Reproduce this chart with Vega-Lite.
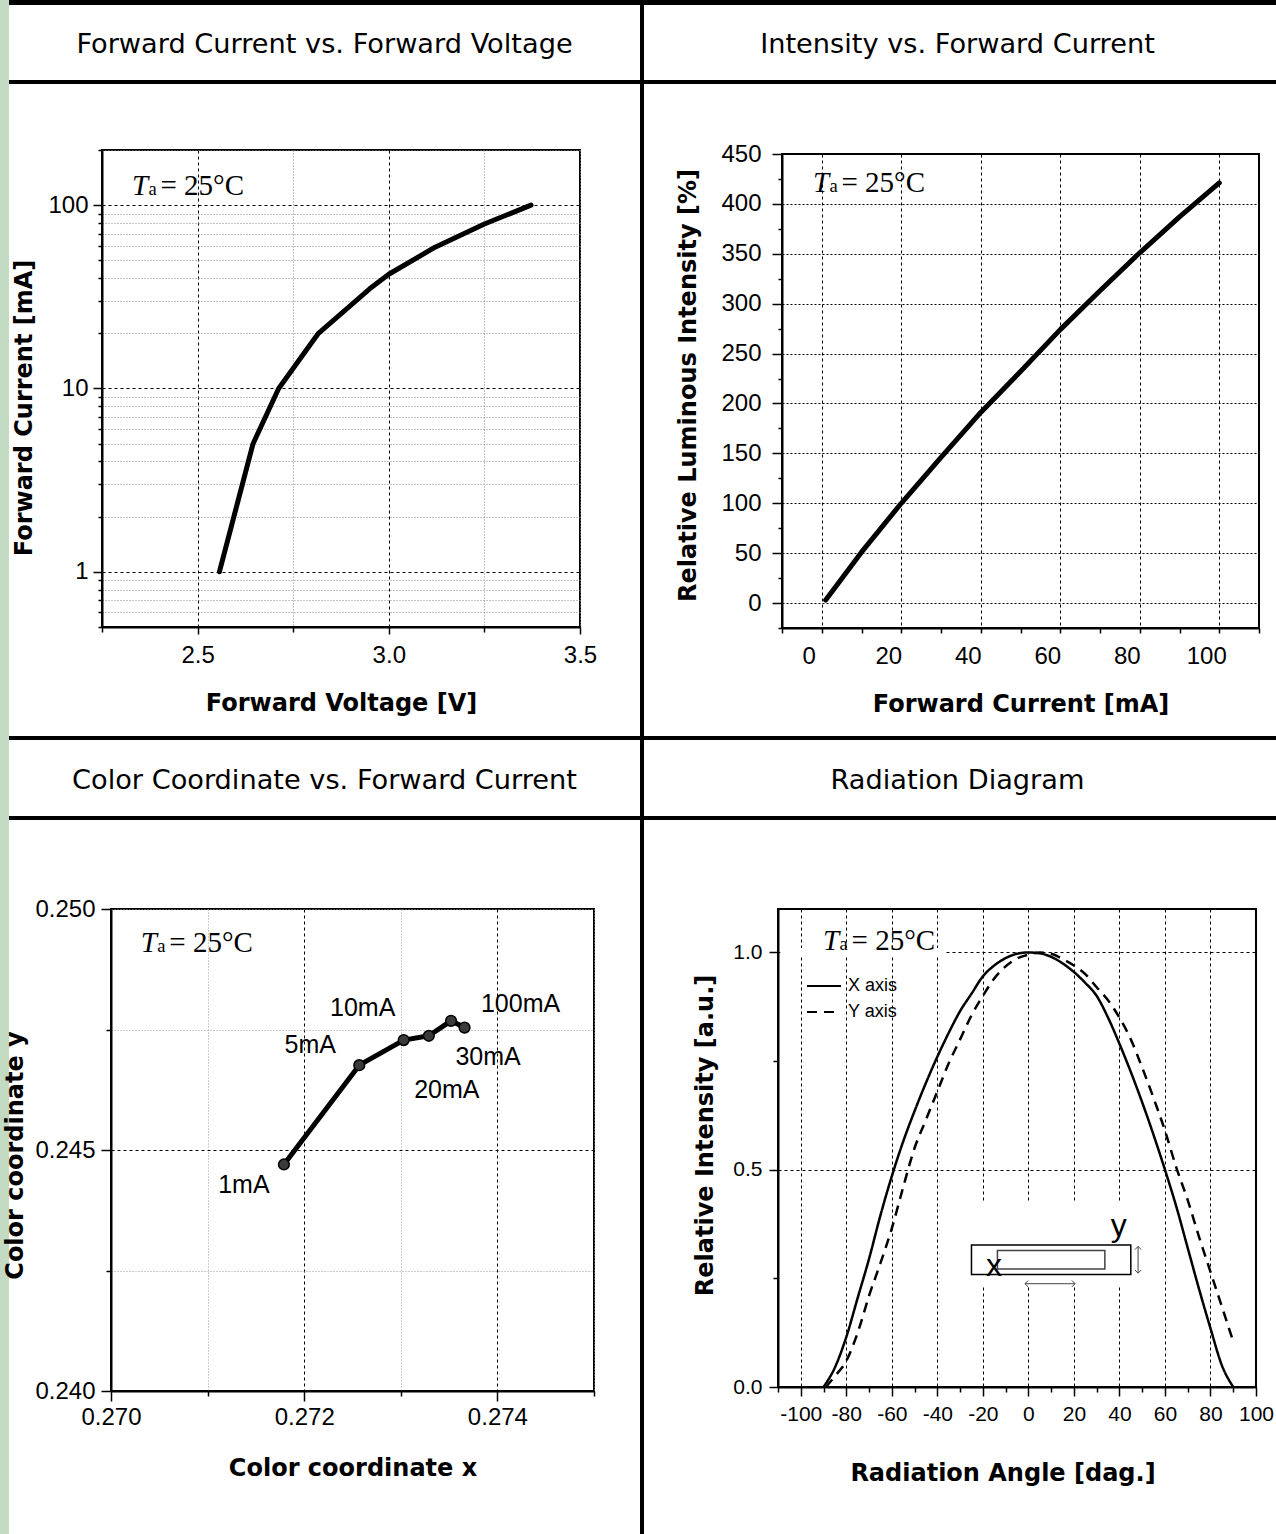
{
"$schema": "https://vega.github.io/schema/vega-lite/v6.json",
"background": "white",
"padding": 0,
"autosize": {"type": "pad"},
"data": {"values": []},
"spacing": 0,
"resolve": {"scale": {"strokeDash": "independent"}, "legend": {"strokeDash": "independent"}},
"config": {
 "view": {"stroke": null},
 "axis": {"labelFont": "Liberation Sans", "labelColor": "black", "titleFont": "DejaVu Sans", "titleFontWeight": "bold", "titleFontSize": 24, "titleColor": "black", "tickColor": "black", "tickWidth": 1.5, "domainColor": "black", "domainWidth": 2, "labelFlush": false, "labelOverlap": false, "gridWidth": 1, "titleBaseline": "alphabetic", "titlePadding": 0},
 "text": {"color": "black"}
},
"vconcat": [
 {"spacing": 0, "hconcat": [
  {"columns": 4, "spacing": 0, "bounds": "flush", "align": "each", "concat": [
   {"width":9,"height":5,"mark":"point","view":{"fill":"#c3dbc3"}},
   {"width":93,"height":5,"mark":"point","view":{"fill":"black"}},
   {"width":478,"height":5,"mark":"point","view":{"fill":"black"}},
   {"width":60,"height":5,"mark":"point","view":{"fill":"black"}},

   {"width":9,"height":75,"mark":"point","view":{"fill":"#c3dbc3"}},
   {"width":93,"height":75,"mark":"point"},
   {"width":478,"height":75,"data":{"values":[{"t":"Forward Current vs. Forward Voltage"}]},"mark":{"type":"text","font":"DejaVu Sans","fontSize":27.2,"dx":-16.5,"dy":2,"color":"black"},"encoding":{"text":{"field":"t","type":"nominal"}}},
   {"width":60,"height":75,"mark":"point"},

   {"width":9,"height":4,"mark":"point","view":{"fill":"#c3dbc3"}},
   {"width":93,"height":4,"mark":"point","view":{"fill":"black"}},
   {"width":478,"height":4,"mark":"point","view":{"fill":"black"}},
   {"width":60,"height":4,"mark":"point","view":{"fill":"black"}},

   {"width":9,"height":66,"mark":"point","view":{"fill":"#c3dbc3"}},
   {"width":93,"height":66,"mark":"point"},
   {"width":478,"height":66,"mark":"point"},
   {"width":60,"height":66,"mark":"point"},

   {"width":9,"height":477,"mark":"point","view":{"fill":"#c3dbc3"}},
   {"width":93,"height":477,"mark":"point"},
   {"width":478,"height":477,
    "view":{"stroke":"black","strokeWidth":2},
    "layer":[
     {"data":{"values":[{"V":2.557,"I":1},{"V":2.645,"I":5},{"V":2.712,"I":10},{"V":2.816,"I":20},{"V":2.95,"I":35},{"V":3.0,"I":42},{"V":3.121,"I":59},{"V":3.25,"I":79},{"V":3.372,"I":100}]},
      "mark":{"type":"line","color":"black","strokeWidth":5,"strokeCap":"round","strokeJoin":"round"},
      "encoding":{
       "x":{"field":"V","type":"quantitative","scale":{"domain":[2.25,3.5],"nice":false,"zero":false},
        "axis":{"title":"Forward Voltage [V]","values":[2.25,2.5,2.75,3,3.25,3.5],"tickCount":100,"format":".1f",
         "labelExpr":"(datum.value==2.5||datum.value==3||datum.value==3.5)?datum.label:''",
         "labelFontSize":24,"labelPadding":9,
         "tickSize":{"condition":{"test":"datum.value==2.5||datum.value==3||datum.value==3.5","value":7},"value":5},
         "grid":true,
         "gridDash":{"condition":{"test":"datum.value==2.5||datum.value==3","value":[3,3]},"value":[1,2]},
         "gridColor":{"condition":{"test":"datum.value==2.5||datum.value==3","value":"black"},"value":"#888888"},
         "titleY":83}},
       "y":{"field":"I","type":"quantitative","scale":{"type":"log","domain":[0.5,200],"nice":false},
        "axis":{"title":"Forward Current [mA]","values":[0.5,0.6,0.7,0.8,0.9,1,2,3,4,5,6,7,8,9,10,20,30,40,50,60,70,80,90,100,200],"tickCount":100,"format":"d",
         "labelExpr":"(datum.value==1||datum.value==10||datum.value==100)?datum.label:''",
         "labelFontSize":24,"labelPadding":5,
         "tickSize":{"condition":{"test":"datum.value==1||datum.value==10||datum.value==100","value":9},"value":4},
         "grid":true,
         "gridDash":{"condition":{"test":"datum.value==1||datum.value==10||datum.value==100","value":[3,3]},"value":[1,2]},
         "gridColor":{"condition":{"test":"datum.value==1||datum.value==10||datum.value==100","value":"black"},"value":"#888888"},
         "titleX":-71,"titleY":257.5}}}},
     {"data":{"values":[{}]},"mark":{"type":"text","text":"T","font":"Liberation Serif","fontStyle":"italic","fontSize":29,"align":"left","baseline":"alphabetic","color":"black"},
      "encoding":{"x":{"datum":2.3285},"y":{"datum":113.4}}},
     {"data":{"values":[{}]},"mark":{"type":"text","text":"a","font":"Liberation Serif","fontSize":18.5,"align":"left","baseline":"alphabetic","dx":16.5,"color":"black"},
      "encoding":{"x":{"datum":2.3285},"y":{"datum":113.4}}},
     {"data":{"values":[{}]},"mark":{"type":"text","text":"= 25°C","font":"Liberation Serif","fontSize":29,"align":"left","baseline":"alphabetic","dx":28.5,"color":"black"},
      "encoding":{"x":{"datum":2.3285},"y":{"datum":113.4}}}
    ]},
   {"width":60,"height":477,"mark":"point"},

   {"width":9,"height":109,"mark":"point","view":{"fill":"#c3dbc3"}},
   {"width":93,"height":109,"mark":"point"},
   {"width":478,"height":109,"mark":"point"},
   {"width":60,"height":109,"mark":"point"},

   {"width":9,"height":4,"mark":"point","view":{"fill":"#c3dbc3"}},
   {"width":93,"height":4,"mark":"point","view":{"fill":"black"}},
   {"width":478,"height":4,"mark":"point","view":{"fill":"black"}},
   {"width":60,"height":4,"mark":"point","view":{"fill":"black"}}
  ]},
  {"columns": 4, "spacing": 0, "bounds": "flush", "align": "each", "concat": [
   {"width":4,"height":5,"mark":"point","view":{"fill":"black"}},
   {"width":138,"height":5,"mark":"point","view":{"fill":"black"}},
   {"width":477,"height":5,"mark":"point","view":{"fill":"black"}},
   {"width":17,"height":5,"mark":"point","view":{"fill":"black"}},

   {"width":4,"height":75,"mark":"point","view":{"fill":"black"}},
   {"width":138,"height":75,"mark":"point"},
   {"width":477,"height":75,"data":{"values":[{"t":"Intensity vs. Forward Current"}]},"mark":{"type":"text","font":"DejaVu Sans","fontSize":27.2,"dx":-63,"dy":2,"color":"black"},"encoding":{"text":{"field":"t","type":"nominal"}}},
   {"width":17,"height":75,"mark":"point"},

   {"width":4,"height":4,"mark":"point","view":{"fill":"black"}},
   {"width":138,"height":4,"mark":"point","view":{"fill":"black"}},
   {"width":477,"height":4,"mark":"point","view":{"fill":"black"}},
   {"width":17,"height":4,"mark":"point","view":{"fill":"black"}},

   {"width":4,"height":70,"mark":"point","view":{"fill":"black"}},
   {"width":138,"height":70,"mark":"point"},
   {"width":477,"height":70,"mark":"point"},
   {"width":17,"height":70,"mark":"point"},

   {"width":4,"height":474,"mark":"point","view":{"fill":"black"}},
   {"width":138,"height":474,"mark":"point"},
   {"width":477,"height":474,
    "view":{"stroke":"black","strokeWidth":2},
    "layer":[
     {"data":{"values":[{"If":1,"L":3},{"If":10,"L":51},{"If":20,"L":100},{"If":30,"L":146},{"If":40,"L":191},{"If":50,"L":232},{"If":60,"L":274},{"If":70,"L":313},{"If":80,"L":351},{"If":90,"L":387},{"If":100,"L":421}]},
      "mark":{"type":"line","color":"black","strokeWidth":5,"strokeCap":"round","strokeJoin":"round"},
      "encoding":{
       "x":{"field":"If","type":"quantitative","scale":{"domain":[-10,110],"nice":false,"zero":false},
        "axis":{"title":"Forward Current [mA]","values":[-10,0,10,20,30,40,50,60,70,80,90,100,110],"tickCount":100,"format":"d",
         "labelExpr":"indexof([0,20,40,60,80,100],datum.value)>=0?datum.label:''",
         "labelFontSize":24,"labelPadding":11.5,"labelOffset":-13,"tickSize":5,
         "grid":true,"gridDash":[3,3],"gridColor":"black",
         "gridOpacity":{"condition":{"test":"indexof([0,20,40,60,80,100],datum.value)>=0","value":1},"value":0},
         "titleY":83}},
       "y":{"field":"L","type":"quantitative","scale":{"domain":[-25,450],"nice":false,"zero":false},
        "axis":{"title":"Relative Luminous Intensity [%]","values":[-25,0,25,50,75,100,125,150,175,200,225,250,275,300,325,350,375,400,425,450],"tickCount":100,"format":"d",
         "labelExpr":"indexof([0,50,100,150,200,250,300,350,400,450],datum.value)>=0?datum.label:''",
         "labelFontSize":24,"labelPadding":11,
         "tickSize":{"condition":{"test":"indexof([0,50,100,150,200,250,300,350,400,450],datum.value)>=0","value":10},"value":4},
         "grid":true,"gridDash":[2,2],"gridColor":"black",
         "gridOpacity":{"condition":{"test":"indexof([0,50,100,150,200,250,300,350,400],datum.value)>=0","value":1},"value":0},
         "titleX":-87,"titleY":231}}}},
     {"data":{"values":[{}]},"mark":{"type":"text","text":"T","font":"Liberation Serif","fontStyle":"italic","fontSize":29,"align":"left","baseline":"alphabetic","color":"black"},
      "encoding":{"x":{"datum":-2.2},"y":{"datum":412.2}}},
     {"data":{"values":[{}]},"mark":{"type":"text","text":"a","font":"Liberation Serif","fontSize":18.5,"align":"left","baseline":"alphabetic","dx":16.5,"color":"black"},
      "encoding":{"x":{"datum":-2.2},"y":{"datum":412.2}}},
     {"data":{"values":[{}]},"mark":{"type":"text","text":"= 25°C","font":"Liberation Serif","fontSize":29,"align":"left","baseline":"alphabetic","dx":28.5,"color":"black"},
      "encoding":{"x":{"datum":-2.2},"y":{"datum":412.2}}}
    ]},
   {"width":17,"height":474,"mark":"point"},

   {"width":4,"height":108,"mark":"point","view":{"fill":"black"}},
   {"width":138,"height":108,"mark":"point"},
   {"width":477,"height":108,"mark":"point"},
   {"width":17,"height":108,"mark":"point"},

   {"width":4,"height":4,"mark":"point","view":{"fill":"black"}},
   {"width":138,"height":4,"mark":"point","view":{"fill":"black"}},
   {"width":477,"height":4,"mark":"point","view":{"fill":"black"}},
   {"width":17,"height":4,"mark":"point","view":{"fill":"black"}}
  ]}
 ]},
 {"spacing": 0, "resolve": {"scale": {"strokeDash": "independent"}, "legend": {"strokeDash": "independent"}}, "hconcat": [
  {"columns": 4, "spacing": 0, "bounds": "flush", "align": "each", "concat": [
   {"width":9,"height":76,"mark":"point","view":{"fill":"#c3dbc3"}},
   {"width":102,"height":76,"mark":"point"},
   {"width":483,"height":76,"data":{"values":[{"t":"Color Coordinate vs. Forward Current"}]},"mark":{"type":"text","font":"DejaVu Sans","fontSize":27.2,"dx":-28,"dy":3,"color":"black"},"encoding":{"text":{"field":"t","type":"nominal"}}},
   {"width":46,"height":76,"mark":"point"},

   {"width":9,"height":4,"mark":"point","view":{"fill":"#c3dbc3"}},
   {"width":102,"height":4,"mark":"point","view":{"fill":"black"}},
   {"width":483,"height":4,"mark":"point","view":{"fill":"black"}},
   {"width":46,"height":4,"mark":"point","view":{"fill":"black"}},

   {"width":9,"height":89,"mark":"point","view":{"fill":"#c3dbc3"}},
   {"width":102,"height":89,"mark":"point"},
   {"width":483,"height":89,"mark":"point"},
   {"width":46,"height":89,"mark":"point"},

   {"width":9,"height":482,"mark":"point","view":{"fill":"#c3dbc3"}},
   {"width":102,"height":482,"mark":"point"},
   {"width":483,"height":482,
    "view":{"stroke":"black","strokeWidth":2},
    "data":{"values":[{"x":0.27179,"y":0.2447,"label":"1mA"},{"x":0.27257,"y":0.24676,"label":"5mA"},{"x":0.27303,"y":0.24728,"label":"10mA"},{"x":0.27329,"y":0.24737,"label":"20mA"},{"x":0.27352,"y":0.24768,"label":"30mA"},{"x":0.27366,"y":0.24754,"label":"100mA"}]},
    "layer":[
     {"mark":{"type":"line","color":"black","strokeWidth":5,"strokeJoin":"round"},
      "encoding":{
       "x":{"field":"x","type":"quantitative","scale":{"domain":[0.27,0.275],"nice":false,"zero":false},
        "axis":{"title":"Color coordinate x","values":[0.27,0.271,0.272,0.273,0.274,0.275],"tickCount":100,"format":".3f",
         "labelExpr":"(datum.value==0.27||datum.value==0.272||datum.value==0.274)?datum.label:''",
         "labelFontSize":24,"labelPadding":4,
         "tickSize":{"condition":{"test":"datum.value==0.27||datum.value==0.272||datum.value==0.274","value":10},"value":5},
         "grid":true,
         "gridDash":{"condition":{"test":"datum.value==0.272||datum.value==0.274","value":[3,3]},"value":[1,2]},
         "gridColor":{"condition":{"test":"datum.value==0.272||datum.value==0.274","value":"black"},"value":"#999999"},
         "titleY":84}},
       "y":{"field":"y","type":"quantitative","scale":{"domain":[0.24,0.25],"nice":false,"zero":false},
        "axis":{"title":"Color coordinate y","values":[0.24,0.2425,0.245,0.2475,0.25],"tickCount":100,"format":".3f",
         "labelExpr":"(datum.value==0.24||datum.value==0.245||datum.value==0.25)?datum.label:''",
         "labelFontSize":24,"labelPadding":6,
         "tickSize":{"condition":{"test":"datum.value==0.24||datum.value==0.245||datum.value==0.25","value":10},"value":5},
         "grid":true,
         "gridDash":{"condition":{"test":"datum.value==0.245","value":[3,3]},"value":[1,2]},
         "gridColor":{"condition":{"test":"datum.value==0.245","value":"black"},"value":"#999999"},
         "titleX":-89,"titleY":246}}}},
     {"mark":{"type":"point","shape":"circle","filled":true,"size":115,"fill":"#3a3a3a","stroke":"black","strokeWidth":1.5,"opacity":1},
      "encoding":{"x":{"field":"x","type":"quantitative"},"y":{"field":"y","type":"quantitative"}}},
     {"transform":[{"filter":"datum.label=='1mA'"}],"mark":{"type":"text","font":"Liberation Sans","fontSize":25,"dx":-40,"dy":21,"color":"black"},
      "encoding":{"x":{"field":"x","type":"quantitative"},"y":{"field":"y","type":"quantitative"},"text":{"field":"label","type":"nominal"}}},
     {"transform":[{"filter":"datum.label=='5mA'"}],"mark":{"type":"text","font":"Liberation Sans","fontSize":25,"dx":-49,"dy":-20,"color":"black"},
      "encoding":{"x":{"field":"x","type":"quantitative"},"y":{"field":"y","type":"quantitative"},"text":{"field":"label","type":"nominal"}}},
     {"transform":[{"filter":"datum.label=='10mA'"}],"mark":{"type":"text","font":"Liberation Sans","fontSize":25,"dx":-41,"dy":-32,"color":"black"},
      "encoding":{"x":{"field":"x","type":"quantitative"},"y":{"field":"y","type":"quantitative"},"text":{"field":"label","type":"nominal"}}},
     {"transform":[{"filter":"datum.label=='20mA'"}],"mark":{"type":"text","font":"Liberation Sans","fontSize":25,"dx":18,"dy":54,"color":"black"},
      "encoding":{"x":{"field":"x","type":"quantitative"},"y":{"field":"y","type":"quantitative"},"text":{"field":"label","type":"nominal"}}},
     {"transform":[{"filter":"datum.label=='30mA'"}],"mark":{"type":"text","font":"Liberation Sans","fontSize":25,"dx":37,"dy":36,"color":"black"},
      "encoding":{"x":{"field":"x","type":"quantitative"},"y":{"field":"y","type":"quantitative"},"text":{"field":"label","type":"nominal"}}},
     {"transform":[{"filter":"datum.label=='100mA'"}],"mark":{"type":"text","font":"Liberation Sans","fontSize":25,"dx":56,"dy":-24,"color":"black"},
      "encoding":{"x":{"field":"x","type":"quantitative"},"y":{"field":"y","type":"quantitative"},"text":{"field":"label","type":"nominal"}}},
     {"data":{"values":[{}]},"mark":{"type":"text","text":"T","font":"Liberation Serif","fontStyle":"italic","fontSize":29,"align":"left","baseline":"alphabetic","color":"black"},
      "encoding":{"x":{"datum":0.270309},"y":{"datum":0.249114}}},
     {"data":{"values":[{}]},"mark":{"type":"text","text":"a","font":"Liberation Serif","fontSize":18.5,"align":"left","baseline":"alphabetic","dx":16.5,"color":"black"},
      "encoding":{"x":{"datum":0.270309},"y":{"datum":0.249114}}},
     {"data":{"values":[{}]},"mark":{"type":"text","text":"= 25°C","font":"Liberation Serif","fontSize":29,"align":"left","baseline":"alphabetic","dx":28.5,"color":"black"},
      "encoding":{"x":{"datum":0.270309},"y":{"datum":0.249114}}}
    ]},
   {"width":46,"height":482,"mark":"point"},

   {"width":9,"height":143,"mark":"point","view":{"fill":"#c3dbc3"}},
   {"width":102,"height":143,"mark":"point"},
   {"width":483,"height":143,"mark":"point"},
   {"width":46,"height":143,"mark":"point"}
  ]},
  {"columns": 4, "spacing": 0, "bounds": "flush", "align": "each", "resolve": {"scale": {"strokeDash": "independent"}, "legend": {"strokeDash": "independent"}}, "concat": [
   {"width":4,"height":76,"mark":"point","view":{"fill":"black"}},
   {"width":134,"height":76,"mark":"point"},
   {"width":478,"height":76,"data":{"values":[{"t":"Radiation Diagram"}]},"mark":{"type":"text","font":"DejaVu Sans","fontSize":27.2,"dx":-59.5,"dy":3,"color":"black"},"encoding":{"text":{"field":"t","type":"nominal"}}},
   {"width":20,"height":76,"mark":"point"},

   {"width":4,"height":4,"mark":"point","view":{"fill":"black"}},
   {"width":134,"height":4,"mark":"point","view":{"fill":"black"}},
   {"width":478,"height":4,"mark":"point","view":{"fill":"black"}},
   {"width":20,"height":4,"mark":"point","view":{"fill":"black"}},

   {"width":4,"height":89,"mark":"point","view":{"fill":"black"}},
   {"width":134,"height":89,"mark":"point"},
   {"width":478,"height":89,"mark":"point"},
   {"width":20,"height":89,"mark":"point"},

   {"width":4,"height":478,"mark":"point","view":{"fill":"black"}},
   {"width":134,"height":478,"mark":"point"},
   {"width":478,"height":478,
    "view":{"stroke":"black","strokeWidth":2},
    "layer":[
     {"data":{"values":[
       {"angle":-90,"rel":0,"s":"X axis"},{"angle":-85,"rel":0.045,"s":"X axis"},{"angle":-80,"rel":0.115,"s":"X axis"},{"angle":-75,"rel":0.205,"s":"X axis"},{"angle":-70,"rel":0.295,"s":"X axis"},{"angle":-65,"rel":0.395,"s":"X axis"},{"angle":-60,"rel":0.485,"s":"X axis"},{"angle":-55,"rel":0.565,"s":"X axis"},{"angle":-50,"rel":0.635,"s":"X axis"},{"angle":-45,"rel":0.7,"s":"X axis"},{"angle":-40,"rel":0.76,"s":"X axis"},{"angle":-35,"rel":0.815,"s":"X axis"},{"angle":-30,"rel":0.865,"s":"X axis"},{"angle":-25,"rel":0.905,"s":"X axis"},{"angle":-20,"rel":0.945,"s":"X axis"},{"angle":-15,"rel":0.97,"s":"X axis"},{"angle":-10,"rel":0.987,"s":"X axis"},{"angle":-5,"rel":0.997,"s":"X axis"},{"angle":0,"rel":1.0,"s":"X axis"},{"angle":5,"rel":0.998,"s":"X axis"},{"angle":10,"rel":0.99,"s":"X axis"},{"angle":15,"rel":0.975,"s":"X axis"},{"angle":20,"rel":0.955,"s":"X axis"},{"angle":25,"rel":0.93,"s":"X axis"},{"angle":30,"rel":0.9,"s":"X axis"},{"angle":35,"rel":0.85,"s":"X axis"},{"angle":40,"rel":0.79,"s":"X axis"},{"angle":45,"rel":0.725,"s":"X axis"},{"angle":50,"rel":0.655,"s":"X axis"},{"angle":55,"rel":0.58,"s":"X axis"},{"angle":60,"rel":0.5,"s":"X axis"},{"angle":65,"rel":0.415,"s":"X axis"},{"angle":70,"rel":0.32,"s":"X axis"},{"angle":75,"rel":0.225,"s":"X axis"},{"angle":80,"rel":0.135,"s":"X axis"},{"angle":85,"rel":0.05,"s":"X axis"},{"angle":90,"rel":0,"s":"X axis"},
       {"angle":-89,"rel":0,"s":"Y axis"},{"angle":-85,"rel":0.025,"s":"Y axis"},{"angle":-80,"rel":0.06,"s":"Y axis"},{"angle":-75,"rel":0.125,"s":"Y axis"},{"angle":-70,"rel":0.21,"s":"Y axis"},{"angle":-65,"rel":0.285,"s":"Y axis"},{"angle":-60,"rel":0.365,"s":"Y axis"},{"angle":-55,"rel":0.46,"s":"Y axis"},{"angle":-50,"rel":0.55,"s":"Y axis"},{"angle":-45,"rel":0.615,"s":"Y axis"},{"angle":-40,"rel":0.68,"s":"Y axis"},{"angle":-35,"rel":0.745,"s":"Y axis"},{"angle":-30,"rel":0.8,"s":"Y axis"},{"angle":-25,"rel":0.855,"s":"Y axis"},{"angle":-20,"rel":0.9,"s":"Y axis"},{"angle":-15,"rel":0.94,"s":"Y axis"},{"angle":-10,"rel":0.968,"s":"Y axis"},{"angle":-5,"rel":0.986,"s":"Y axis"},{"angle":0,"rel":0.995,"s":"Y axis"},{"angle":5,"rel":1.0,"s":"Y axis"},{"angle":10,"rel":0.997,"s":"Y axis"},{"angle":15,"rel":0.985,"s":"Y axis"},{"angle":20,"rel":0.97,"s":"Y axis"},{"angle":25,"rel":0.95,"s":"Y axis"},{"angle":30,"rel":0.92,"s":"Y axis"},{"angle":35,"rel":0.89,"s":"Y axis"},{"angle":40,"rel":0.85,"s":"Y axis"},{"angle":45,"rel":0.8,"s":"Y axis"},{"angle":50,"rel":0.735,"s":"Y axis"},{"angle":55,"rel":0.665,"s":"Y axis"},{"angle":60,"rel":0.59,"s":"Y axis"},{"angle":65,"rel":0.505,"s":"Y axis"},{"angle":70,"rel":0.43,"s":"Y axis"},{"angle":75,"rel":0.345,"s":"Y axis"},{"angle":80,"rel":0.265,"s":"Y axis"},{"angle":85,"rel":0.185,"s":"Y axis"},{"angle":90,"rel":0.105,"s":"Y axis"}
      ]},
      "mark":{"type":"line","color":"black","strokeWidth":2.5,"interpolate":"monotone"},
      "encoding":{
       "x":{"field":"angle","type":"quantitative","scale":{"domain":[-110,100],"nice":false,"zero":false},
        "axis":{"title":"Radiation Angle [dag.]","values":[-110,-100,-90,-80,-70,-60,-50,-40,-30,-20,-10,0,10,20,30,40,50,60,70,80,90,100],"tickCount":100,"format":"d",
         "labelExpr":"indexof([-100,-80,-60,-40,-20,0,20,40,60,80,100],datum.value)>=0?toString(datum.value):''",
         "labelFontSize":21,"labelPadding":7,
         "tickSize":{"condition":{"test":"indexof([-100,-80,-60,-40,-20,0,20,40,60,80,100],datum.value)>=0","value":9},"value":5},
         "grid":true,"gridDash":[3,3],"gridColor":"black",
         "gridOpacity":{"condition":{"test":"indexof([-100,-80,-60,-40,-20,0,20,40,60,80],datum.value)>=0","value":1},"value":0},
         "titleX":224.5,"titleY":93}},
       "y":{"field":"rel","type":"quantitative","scale":{"domain":[0,1.1],"nice":false,"zero":false},
        "axis":{"title":"Relative Intensity [a.u.]","values":[0,0.25,0.5,0.75,1],"tickCount":100,"format":".1f",
         "labelExpr":"(datum.value==0||datum.value==0.5||datum.value==1)?datum.label:''",
         "labelFontSize":21,"labelPadding":7,
         "tickSize":{"condition":{"test":"datum.value==0||datum.value==0.5||datum.value==1","value":9},"value":5},
         "grid":true,"gridDash":[3,3],"gridColor":"black",
         "gridOpacity":{"condition":{"test":"datum.value==0.5||datum.value==1","value":1},"value":0},
         "titleX":-66,"titleY":226}},
       "strokeDash":{"field":"s","type":"nominal","scale":{"domain":["X axis","Y axis"],"range":[[1,0],[10,7]]},
        "legend":{"title":null,"orient":"none","legendX":28,"legendY":66,"symbolType":"stroke","symbolSize":1156,"symbolStrokeWidth":2,"symbolStrokeColor":"black","labelFont":"Liberation Sans","labelFontSize":18,"labelColor":"black","labelOffset":6,"clipHeight":22,"rowPadding":4,"padding":0}}}},
     {"data":{"values":[{}]},"mark":{"type":"rect","color":"white"},
      "encoding":{"x":{"datum":-30},"x2":{"datum":50},"y":{"datum":0.23},"y2":{"datum":0.424}}},
     {"data":{"values":[{}]},"mark":{"type":"rect","color":"white"},
      "encoding":{"x":{"datum":-109},"x2":{"datum":-37},"y":{"datum":0.99},"y2":{"datum":1.01}}},
     {"data":{"values":[{}]},"mark":{"type":"rect","filled":false,"stroke":"black","strokeWidth":1.5},
      "encoding":{"x":{"datum":-25},"x2":{"datum":45},"y":{"datum":0.259},"y2":{"datum":0.327}}},
     {"data":{"values":[{}]},"mark":{"type":"rect","filled":false,"stroke":"#444444","strokeWidth":1.5},
      "encoding":{"x":{"datum":-13.6},"x2":{"datum":33.6},"y":{"datum":0.2715},"y2":{"datum":0.314}}},
     {"data":{"values":[{}]},"mark":{"type":"text","text":"x","font":"Liberation Sans","fontSize":32,"color":"black"},
      "encoding":{"x":{"datum":-15.1},"y":{"datum":0.278}}},
     {"data":{"values":[{}]},"mark":{"type":"text","text":"y","font":"Liberation Sans","fontSize":32,"color":"black"},
      "encoding":{"x":{"datum":39.7},"y":{"datum":0.37}}},
     {"data":{"values":[{}]},"mark":{"type":"rule","color":"#444444","strokeWidth":1},
      "encoding":{"x":{"datum":-1.5},"x2":{"datum":20.5},"y":{"datum":0.2377}}},
     {"data":{"values":[{}]},"mark":{"type":"rule","color":"#444444","strokeWidth":1},
      "encoding":{"x":{"datum":48.2},"y":{"datum":0.262},"y2":{"datum":0.3235}}},
     {"data":{"values":[{}]},"mark":{"type":"point","shape":"M1,-1L0,0L1,1","size":40,"filled":false,"stroke":"#444444","strokeWidth":1,"opacity":1},
      "encoding":{"x":{"datum":-1.5},"y":{"datum":0.2377}}},
     {"data":{"values":[{}]},"mark":{"type":"point","shape":"M-1,-1L0,0L-1,1","size":40,"filled":false,"stroke":"#444444","strokeWidth":1,"opacity":1},
      "encoding":{"x":{"datum":20.5},"y":{"datum":0.2377}}},
     {"data":{"values":[{}]},"mark":{"type":"point","shape":"M-1,1L0,0L1,1","size":40,"filled":false,"stroke":"#444444","strokeWidth":1,"opacity":1},
      "encoding":{"x":{"datum":48.2},"y":{"datum":0.3235}}},
     {"data":{"values":[{}]},"mark":{"type":"point","shape":"M-1,-1L0,0L1,-1","size":40,"filled":false,"stroke":"#444444","strokeWidth":1,"opacity":1},
      "encoding":{"x":{"datum":48.2},"y":{"datum":0.262}}},
     {"data":{"values":[{}]},"mark":{"type":"text","text":"T","font":"Liberation Serif","fontStyle":"italic","fontSize":29,"align":"left","baseline":"alphabetic","color":"black"},
      "encoding":{"x":{"datum":-90.2},"y":{"datum":1.0057}}},
     {"data":{"values":[{}]},"mark":{"type":"text","text":"a","font":"Liberation Serif","fontSize":18.5,"align":"left","baseline":"alphabetic","dx":16.5,"color":"black"},
      "encoding":{"x":{"datum":-90.2},"y":{"datum":1.0057}}},
     {"data":{"values":[{}]},"mark":{"type":"text","text":"= 25°C","font":"Liberation Serif","fontSize":29,"align":"left","baseline":"alphabetic","dx":28.5,"color":"black"},
      "encoding":{"x":{"datum":-90.2},"y":{"datum":1.0057}}}
    ]},
   {"width":20,"height":478,"mark":"point"},

   {"width":4,"height":147,"mark":"point","view":{"fill":"black"}},
   {"width":134,"height":147,"mark":"point"},
   {"width":478,"height":147,"mark":"point"},
   {"width":20,"height":147,"mark":"point"}
  ]}
 ]}
]
}
